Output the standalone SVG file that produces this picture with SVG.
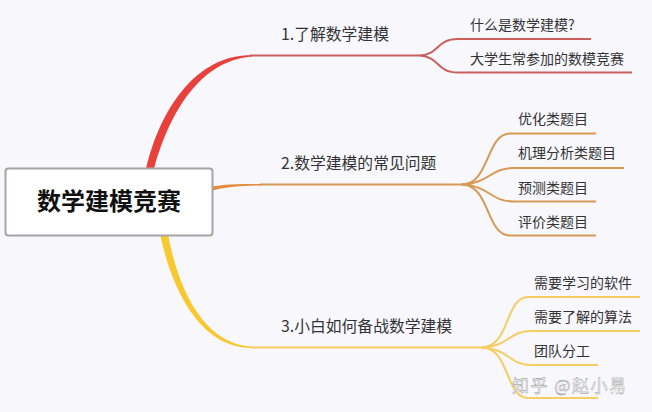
<svg xmlns="http://www.w3.org/2000/svg" width="652" height="412" viewBox="0 0 652 412">
<style>
text{font-family:"Noto Sans CJK SC","Liberation Sans",sans-serif;fill:#333}
.t1{font-size:15.800px}
.t2{font-size:14px}
.l{fill:none;stroke-linecap:butt}
.r{stroke:#c9605c;stroke-width:2}
.o{stroke:#d79a55;stroke-width:2}
.y{stroke:#f5cd62;stroke-width:2}
</style>
<rect width="652" height="412" fill="#f7f7fc"/>
<g id="connectors">
<path d="M146 169C160 110 195 55 252 55V56.500C202 60 170 110 154 169Z" fill="#e8413c"/>
<path class="l r" d="M250 55.500H420"/>
<path class="l r" d="M420 55.500C440 54 436 39 458 39H591"/>
<path class="l r" d="M420 55.500C440 57 436 72.500 458 72.500H632"/>
<path d="M210 187C225 184 240 184 262 184V185.500C240 185.500 225 187 211 191Z" fill="#e48a3c"/>
<path class="l o" d="M260 184.500H470"/>
<path class="l o" d="M462 184.500C490 184 486 133.500 510 133.500H596"/>
<path class="l o" d="M462 184.500C490 183 490 168 514 168H624"/>
<path class="l o" d="M462 184.500C490 186 490 201.500 514 201.500H596"/>
<path class="l o" d="M462 184.500C490 185 486 235.500 510 235.500H596"/>
<path d="M160 234C172 290 200 348 252 348V346.500C205 345 178 290 168 234Z" fill="#f7c92f"/>
<path class="l y" d="M250 347.500H490"/>
<path class="l y" d="M482 347.500C510 347 505 297 528 297H640"/>
<path class="l y" d="M482 347.500C510 346 508 331 532 331H640"/>
<path class="l y" d="M482 347.500C510 349 508 365 532 365H598"/>
<path class="l y" d="M482 347.500C510 348 505 398 528 398H598"/>
</g>
<g id="root">
<rect x="5.500" y="168.500" width="207" height="67" rx="3" fill="#fff" stroke="#a5a5a5" stroke-width="2"/>
<text x="109" y="210" text-anchor="middle" font-size="24" font-weight="700" style="fill:#111">数学建模竞赛</text>
</g>
<g id="n1"><text class="t1" x="281" y="40">1.了解数学建模</text></g>
<g id="n1a"><text class="t2" x="470" y="30">什么是数学建模?</text></g>
<g id="n1b"><text class="t2" x="470" y="64">大学生常参加的数模竞赛</text></g>
<g id="n2"><text class="t1" x="281" y="169">2.数学建模的常见问题</text></g>
<g id="n2a"><text class="t2" x="518" y="124">优化类题目</text></g>
<g id="n2b"><text class="t2" x="518" y="158">机理分析类题目</text></g>
<g id="n2c"><text class="t2" x="518" y="193">预测类题目</text></g>
<g id="n2d"><text class="t2" x="518" y="227">评价类题目</text></g>
<g id="n3"><text class="t1" x="281" y="332">3.小白如何备战数学建模</text></g>
<g id="n3a"><text class="t2" x="534" y="288">需要学习的软件</text></g>
<g id="n3b"><text class="t2" x="534" y="322">需要了解的算法</text></g>
<g id="n3c"><text class="t2" x="534" y="356">团队分工</text></g>
<g id="watermark"><text x="512" y="392" font-size="17" letter-spacing="1.500" style="fill:#fff;stroke:#888;stroke-width:.4">知乎 @赵小易</text></g>
</svg>
